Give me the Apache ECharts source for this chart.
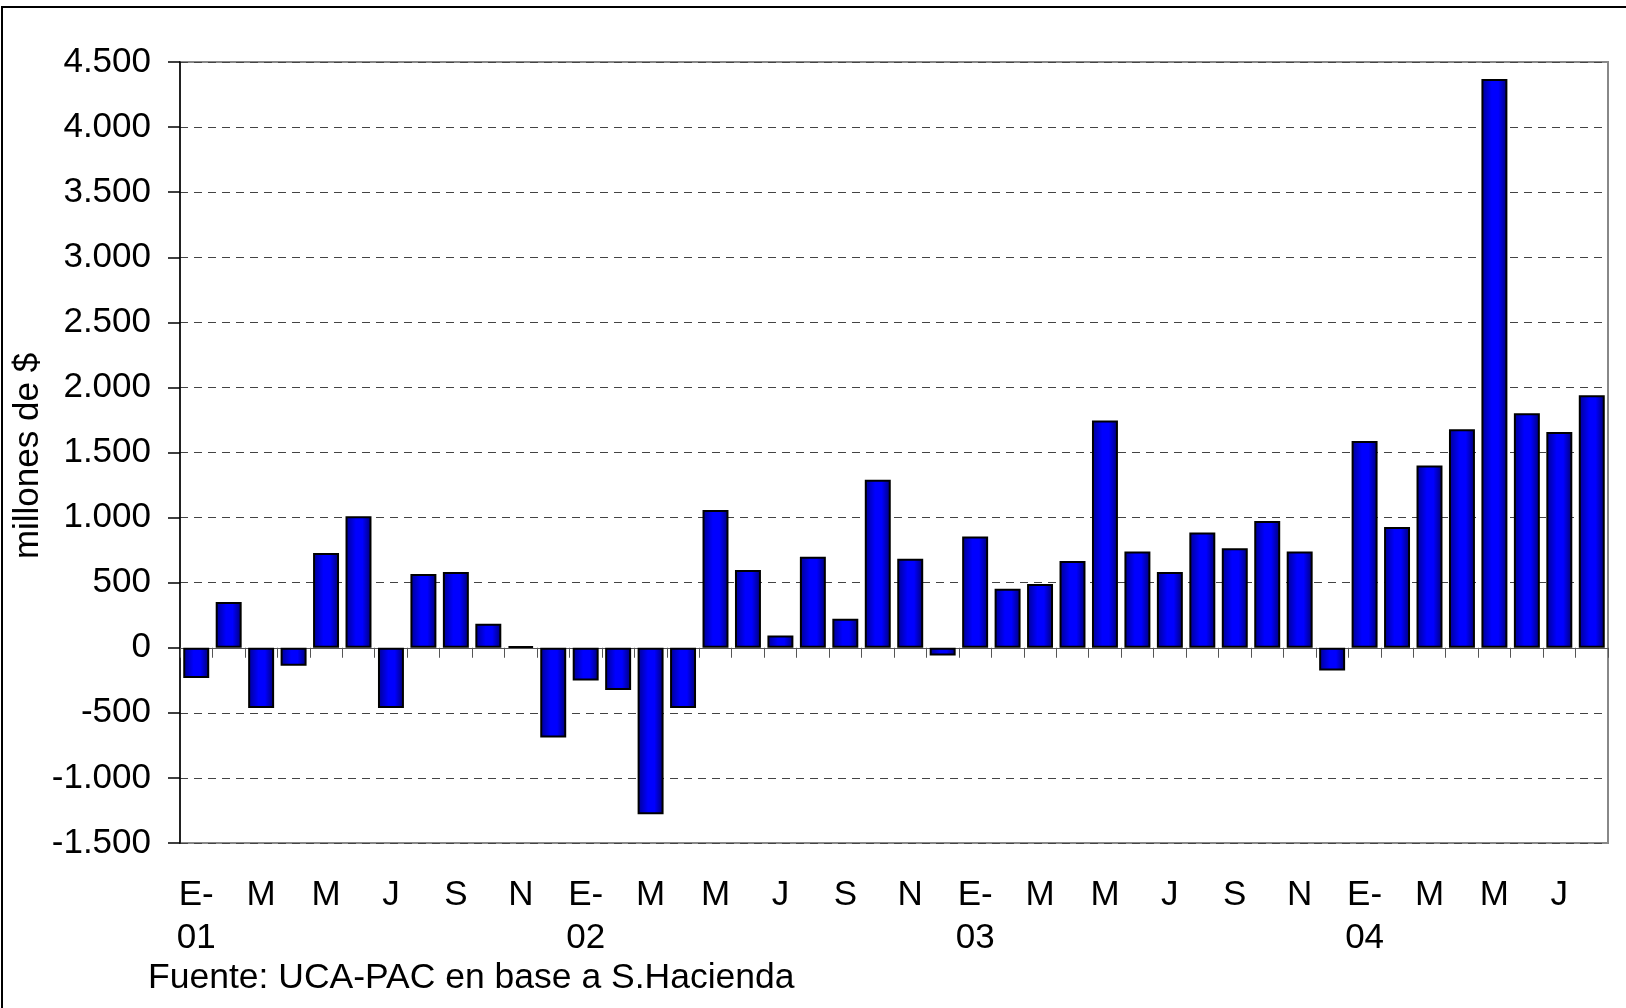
<!DOCTYPE html>
<html>
<head>
<meta charset="utf-8">
<title>Resultado fiscal mensual</title>
<script src="https://cdn.jsdelivr.net/npm/echarts@6/dist/echarts.min.js"></script>
<style>
    html, body { margin: 0; padding: 0; background: #fff; }
    #chart { width: 1626px; height: 1008px; }
</style>
</head>
<body>
<div id="chart"></div>
<script>
// month initials (Spanish) and years shown on the axis
const months = ['E', 'F', 'M', 'A', 'M', 'J', 'J', 'A', 'S', 'O', 'N', 'D'];
const years = ['01', '02', '03', '04'];

// millones de $
const values2001 = [-233, 351, -463, -138, 727, 1011, -463, 566, 581, 184, 10, -689];
const values2002 = [-251, -325, -1280, -463, 1058, 597, 95, 699, 223, 1290, 684, -59];
const values2003 = [855, 453, 489, 666, 1746, 740, 581, 885, 764, 973, 740, -175];
const values2004 = [1589, 928, 1401, 1678, 4370, 1802, 1658, 1939];

const yMin = -1500;
const yMax = 4500;
const yStep = 500;

const yearValues = [values2001, values2002, values2003, values2004];

let categories = [];
let values = [];
yearValues.forEach((list, y) => {
    list.forEach((v, m) => {
        categories.push(m === 0 ? months[m] + '-\n' + years[y] : months[m]);
        values.push(v);
    });
});

function formatThousands(v) {
    let s = String(Math.abs(v)).replace(/\B(?=(\d{3})+(?!\d))/g, '.');
    return (v < 0 ? '-' : '') + s;
}

const font = "'Liberation Sans', Arial, sans-serif";

let chart = echarts.init(document.getElementById('chart'));

chart.setOption({
    backgroundColor: '#fff',
    animation: false,
    textStyle: { fontFamily: font, color: '#000' },
    grid: {
        left: 180, right: 18, top: 62, bottom: 165,
        show: true,
        borderColor: '#888',
        borderWidth: 2
    },
    xAxis: [{
        type: 'category',
        data: categories,
        position: 'bottom',
        axisLine: { show: false, onZero: false },
        axisTick: { show: false },
        axisLabel: {
            interval: 1,
            fontSize: 35,
            lineHeight: 43,
            color: '#000',
            fontFamily: font,
            margin: 31
        },
        splitLine: { show: false }
    }, {
        // zero line with the category ticks hanging from it
        type: 'category',
        data: categories,
        position: 'top',
        axisLine: { show: true, onZero: true, lineStyle: { color: '#555', width: 1 } },
        axisTick: { show: true, inside: true, length: 10, lineStyle: { color: '#555', width: 1 } },
        axisLabel: { show: false },
        splitLine: { show: false }
    }],
    yAxis: {
        type: 'value',
        min: yMin,
        max: yMax,
        interval: yStep,
        axisLine: { show: true, lineStyle: { color: '#000', width: 1.5 } },
        axisTick: { show: true, length: 12, lineStyle: { color: '#000', width: 1.5 } },
        axisLabel: {
            fontSize: 35,
            color: '#000',
            fontFamily: font,
            margin: 29,
            formatter: formatThousands
        },
        splitLine: {
            show: true,
            lineStyle: { color: '#444', width: 1, type: [8, 6] }
        }
    },
    series: [{
        type: 'bar',
        xAxisIndex: 0,
        data: values,
        barWidth: '80%',
        itemStyle: {
            color: new echarts.graphic.LinearGradient(0, 0, 1, 0, [
                { offset: 0, color: '#000090' },
                { offset: 0.4, color: '#0000ff' },
                { offset: 0.65, color: '#0000ff' },
                { offset: 1, color: '#000070' }
            ]),
            borderColor: '#000',
            borderWidth: 2
        }
    }],
    graphic: [{
        type: 'rect',
        shape: { x: 2, y: 7, width: 2000, height: 2000 },
        style: { fill: 'none', stroke: '#000', lineWidth: 2 },
        silent: true
    }, {
        type: 'text',
        x: 28,
        y: 456,
        rotation: Math.PI / 2,
        style: {
            text: 'millones de $',
            font: '35px ' + font,
            fill: '#000',
            textAlign: 'center',
            textVerticalAlign: 'middle'
        }
    }, {
        type: 'text',
        left: 148,
        top: 960,
        style: {
            text: 'Fuente: UCA-PAC en base a S.Hacienda',
            font: '35.5px ' + font,
            fill: '#000'
        }
    }]
});
</script>
</body>
</html>
